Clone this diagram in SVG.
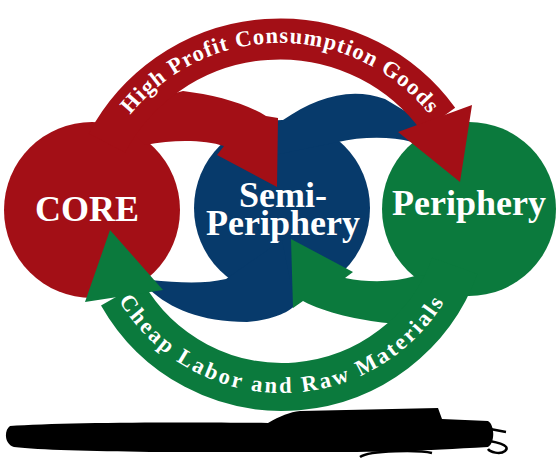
<svg xmlns="http://www.w3.org/2000/svg" width="560" height="459" viewBox="0 0 560 459">
<defs>
<style>
.red{fill:#A30F16}
.navy{fill:#073A6B}
.green{fill:#0B7A3D}
.lbl{font-family:"Liberation Serif","Times New Roman",serif;font-weight:bold;fill:#fff;text-anchor:middle}
.node{font-size:36px}
.arc{font-size:22.5px}
</style>
<path id="pTop" d="M 90.9,201.7 A 192 192 0 0 1 469.1,201.7"/>
<path id="pBot" d="M 94.9,236 A 190 190 0 0 0 469.1,236"/>
</defs>
<rect width="560" height="459" fill="#fff"/>
<g id="node-core">
<circle class="red" cx="92" cy="210" r="88"/>
<text class="lbl node" x="87" y="221">CORE</text>
</g>
<g id="node-semi-periphery">
<circle class="navy" cx="282" cy="208" r="88"/>
<text class="lbl node"><tspan x="283" y="207">Semi-</tspan><tspan x="283" y="235">Periphery</tspan></text>
</g>
<g id="node-periphery">
<circle class="green" cx="469" cy="209" r="87"/>
<text class="lbl node" x="469" y="215">Periphery</text>
</g>
<g id="connectors">
<path class="navy" d="M 250,160 L 283,120 C 315,98 350,86 385,99 L 420,120 L 415,145 L 412,142 C 390,136 360,137 338,142 Z"/>
<path class="navy" d="M 120,255 L 150,290 C 170,308 200,322 247,322 C 272,320 290,312 295,305 L 282,240 L 226,279 C 205,284 180,283 150,280 Z"/>
<path class="red" d="M 145,145 L 125,125 L 160,97 L 183,91 C 215,95 245,103 266,116 L 278,118 L 277,187 L 217,155 L 224,146 C 205,140 175,139 145,145 Z"/>
<path class="green" d="M 291,239 L 353,272 L 345,278 C 370,283 395,282 415,276 L 440,275 L 420,330 L 387,323 C 360,320 325,313 303,301 L 293,308 Z"/>
<g id="edge-core-periphery">
<path d="M 106.9,143 A 196 196 0 0 1 438.6,119.8" fill="none" stroke="#A30F16" stroke-width="41"/>
<polygon class="red" points="398,132 472,105 460,182"/>
<text class="lbl arc" letter-spacing="1.1"><textPath href="#pTop" startOffset="50%">High Profit Consumption Goods</textPath></text>
</g>
<g id="edge-periphery-core">
<path d="M 454.9,265.9 A 184 184 0 0 1 121.9,293.6" fill="none" stroke="#0B7A3D" stroke-width="48"/>
<polygon class="green" points="110,230 85,302 163,290"/>
<text class="lbl arc" letter-spacing="2.6"><textPath href="#pBot" startOffset="50%">Cheap Labor and Raw Materials</textPath></text>
</g>
</g>
<g id="scribble">
<path d="M 10,426 C 60,422 200,422 268,423 C 280,416 290,412 300,411 L 438,408 L 442,419 L 488,421 C 495,425 495,443 488,447 C 420,451 380,452 330,452 L 150,452 C 90,451 40,450 14,447 C 4,444 4,430 10,426 Z" fill="#000"/>
<path d="M 485,428 L 506,432 M 478,440 C 495,441 512,445 505,451 C 500,455 490,452 488,449 M 360,457 C 370,450 420,450 432,453" fill="none" stroke="#000" stroke-width="2.5"/>
</g>
</svg>
